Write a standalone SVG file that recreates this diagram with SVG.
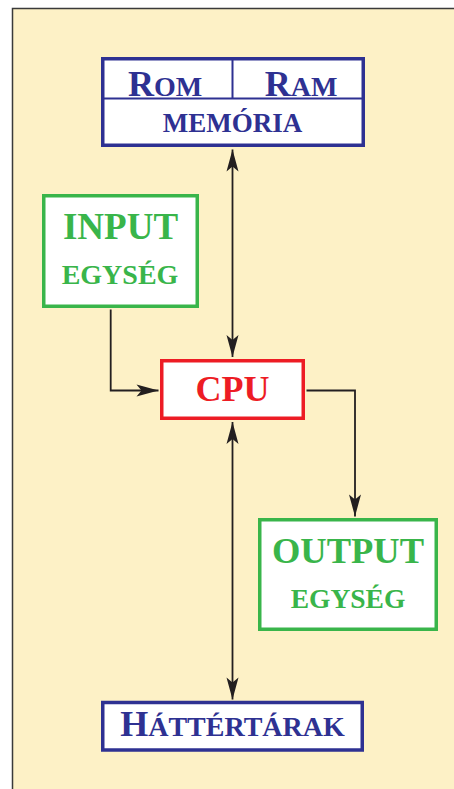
<svg xmlns="http://www.w3.org/2000/svg" width="454" height="789" viewBox="0 0 454 789">
<style>
text{font-family:"Liberation Serif","Times New Roman",serif;font-weight:bold;text-anchor:middle}
.navy{fill:#2E3192}.green{fill:#39B54A}.red{fill:#ED1C24}
.box{fill:#fff;stroke-width:3.5}
.bn{stroke:#2E3192}.bg{stroke:#39B54A}.br{stroke:#ED1C24}
.con{fill:none;stroke:#231F20;stroke-width:1.8}
</style>
<defs>
<marker id="ah" markerUnits="userSpaceOnUse" viewBox="-23 -7 24 14" refX="0" refY="0" markerWidth="24" markerHeight="14" orient="auto-start-reverse">
<path d="M0,0 L-22,-6 L-17,0 L-22,6 Z" fill="#231F20"/>
</marker>
</defs>
<rect x="0" y="0" width="454" height="789" fill="#fff"/>
<rect x="12.5" y="8.5" width="450" height="790" fill="#FDF1C6" stroke="#3a3a3a" stroke-width="1.5"/>
<g id="connectors">
<path class="con" d="M232.5,149.5 V357" marker-start="url(#ah)" marker-end="url(#ah)"/>
<path class="con" d="M110.7,309.5 V390.5 H158.5" marker-end="url(#ah)"/>
<path class="con" d="M306.5,390.5 H355 V516.5" marker-end="url(#ah)"/>
<path class="con" d="M232.5,422 V699.5" marker-start="url(#ah)" marker-end="url(#ah)"/>
</g>
<g id="memoria">
<rect class="box bn" x="102.75" y="58.75" width="260.5" height="86.5"/>
<path d="M103,98.5 H363 M232.5,59 V98.5" stroke="#2E3192" stroke-width="2" fill="none"/>
<text class="navy" x="165" y="95.5" font-size="36">R<tspan font-size="28">OM</tspan></text>
<text class="navy" x="301" y="95.5" font-size="36">R<tspan font-size="28">AM</tspan></text>
<text class="navy" x="232.5" y="131.7" font-size="27">MEMÓRIA</text>
</g>
<g id="input">
<rect class="box bg" x="43.75" y="195.75" width="153.5" height="110.5"/>
<text class="green" x="120.5" y="239.3" font-size="37">INPUT</text>
<text class="green" x="120" y="284.3" font-size="28">EGYSÉG</text>
</g>
<g id="cpu">
<rect class="box br" x="161.75" y="360.75" width="141.5" height="57.5"/>
<text class="red" x="232.5" y="401" font-size="36">CPU</text>
</g>
<g id="output">
<rect class="box bg" x="259.75" y="519.75" width="176.5" height="109.5"/>
<text class="green" x="348" y="563" font-size="36.5">OUTPUT</text>
<text class="green" x="348" y="607.7" font-size="27.5">EGYSÉG</text>
</g>
<g id="hattertarak">
<rect class="box bn" x="102.75" y="702.5" width="259.5" height="47.5"/>
<text class="navy" x="232.5" y="736" font-size="36">H<tspan font-size="28">ÁTTÉRTÁRAK</tspan></text>
</g>
</svg>
